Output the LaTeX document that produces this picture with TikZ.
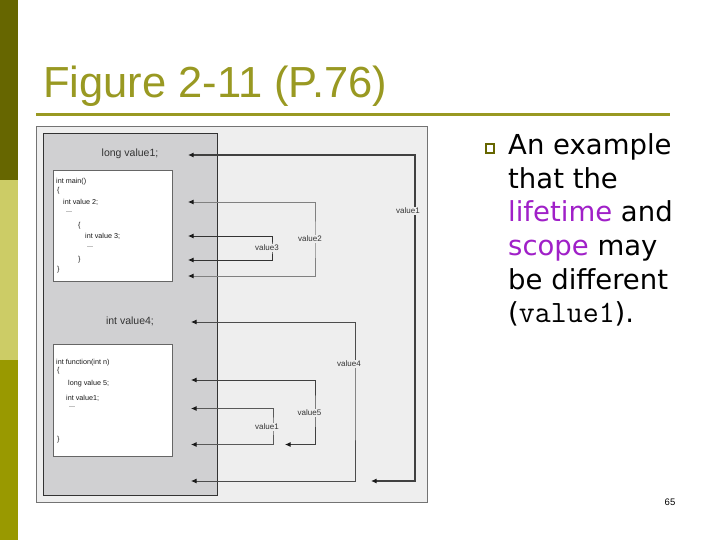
\documentclass[tikz,border=0pt]{standalone}
\usepackage{fontspec}
\setmainfont{Liberation Sans}
\newfontfamily\dv{DejaVu Sans}
\usetikzlibrary{arrows.meta}
\definecolor{oliveA}{RGB}{102,102,0}
\definecolor{oliveB}{RGB}{204,204,102}
\definecolor{oliveC}{RGB}{153,153,0}
\definecolor{titlecol}{RGB}{153,153,34}
\definecolor{purp}{RGB}{160,32,200}
\definecolor{figbg}{RGB}{238,238,238}
\definecolor{figdark}{RGB}{208,208,210}
\tikzset{
  codetxt/.style={anchor=west,inner sep=0pt,font=\fontsize{7.2}{8}\selectfont,text=black!90},
  decl/.style={inner sep=0pt,font=\fontsize{10.5}{12}\selectfont,text=black!80},
  lbl/.style={fill=figbg,inner sep=0.6pt,font=\fontsize{8}{9}\selectfont,text=black!80},
  tip/.style={Latex[length=5.5pt,width=5pt,color=black!90]},
  bracket/.style={line width=0.9pt,{Latex[length=5.5pt,width=5pt,color=black!90]}-{Latex[length=5.5pt,width=5pt,color=black!90]}},
  rline/.style={anchor=base west,inner sep=0pt,font=\dv\fontsize{27.5}{33}\selectfont},
}
\begin{document}
\begin{tikzpicture}[x=1pt,y=-1pt]
\useasboundingbox (0,0) rectangle (720,540);
\fill[white] (0,0) rectangle (720,540);
% sidebar
\fill[oliveA] (0,0) rectangle (18,180);
\fill[oliveB] (0,180) rectangle (18,360);
\fill[oliveC] (0,360) rectangle (18,540);
% title
\node[anchor=base west,inner sep=0pt,text=titlecol,font=\fontsize{43.5}{50}\selectfont] (title) at (43,98) {Figure 2-11 (P.76)};
\draw[titlecol,line width=3.5pt] (36,114.5) -- (670,114.5);
% figure
\draw[fill=figbg,draw=black!55,line width=0.8pt] (36.5,126) rectangle (427.5,502.5);
\draw[fill=figdark,draw=black!80,line width=0.8pt] (43.5,133.5) rectangle (217,495.5);
\draw[fill=white,draw=black!60,line width=0.5pt] (53,170) rectangle (172,281.5);
\draw[fill=white,draw=black!60,line width=0.5pt] (53,344) rectangle (172,456);
\node[decl] (d1) at (130,154) {long value1;};
\node[decl] (d4) at (130,321.5) {int value4;};
% code 1
\node[codetxt] (c1) at (56,182) {int main()};
\node[codetxt] (c2) at (57,191) {\{};
\node[codetxt] (c3) at (63,202) {int value 2;};
\node[codetxt] (c4) at (66,212.5) {...};
\node[codetxt] (c5) at (78,226) {\{};
\node[codetxt] (c6) at (85,236.5) {int value 3;};
\node[codetxt] (c7) at (87,247) {...};
\node[codetxt] (c8) at (78,259.5) {\}};
\node[codetxt] (c9) at (57,270) {\}};
% code 2
\node[codetxt] (e1) at (56,363) {int function(int n)};
\node[codetxt] (e2) at (57,371) {\{};
\node[codetxt] (e3) at (68,384) {long value 5;};
\node[codetxt] (e4) at (66,398.5) {int value1;};
\node[codetxt] (e5) at (69,407.5) {...};
\node[codetxt] (e6) at (57,440) {\}};
% bracket endpoints
\coordinate (v1a) at (188,155);   \coordinate (v1r) at (415,300);  \coordinate (v1b) at (371,481);
\coordinate (v2a) at (188,202);   \coordinate (v2r) at (315,240);  \coordinate (v2b) at (188,276);
\coordinate (v3a) at (188,236);   \coordinate (v3r) at (272,248);  \coordinate (v3b) at (188,260);
\coordinate (v4a) at (191,322);   \coordinate (v4r) at (355,400);  \coordinate (v4b) at (191,481);
\coordinate (v5a) at (191,380);   \coordinate (v5r) at (315,410);  \coordinate (v5b) at (285,444.5);
\coordinate (v6a) at (191,408.5); \coordinate (v6r) at (273,426);  \coordinate (v6b) at (191,444.5);
\draw[bracket,black!75,line width=1.6pt] (v1a) -| (v1r) |- (v1b);
\draw[bracket,black!50] (v2a) -| (v2r) |- (v2b);
\draw[bracket,black!80] (v3a) -| (v3r) |- (v3b);
\draw[bracket,black!70] (v4a) -| (v4r) |- (v4b);
\draw[bracket,black!75] (v5a) -| (v5r) |- (v5b);
\draw[bracket,black!65] (v6a) -| (v6r) |- (v6b);
\node[lbl] (l1) at (408,211) {value1};
\node[lbl] (l2) at (310,239) {value2};
\node[lbl] (l3) at (267,248) {value3};
\node[lbl] (l4) at (349,364) {value4};
\node[lbl] (l5) at (309.5,413) {value5};
\node[lbl] (l6) at (267,427) {value1};
% right text
\node[draw=oliveA,line width=1.8pt,minimum size=8.5pt,inner sep=0pt] (bul) at (490,148.5) {};
\node[rline] (r1) at (508,155) {An example};
\node[rline] (r2) at (508,188.5) {that the};
\node[rline] (r3) at (508,222) {\textcolor{purp}{lifetime} and};
\node[rline] (r4) at (508,255.5) {\textcolor{purp}{scope} may};
\node[rline] (r5) at (508,289) {be different};
\node[rline] (r6) at (508,322.5) {({\ttfamily\fontsize{31}{33}\selectfont value1}).};
\node[inner sep=0pt,font=\fontsize{9.5}{11}\selectfont] (pg) at (670,502) {65};
\end{tikzpicture}
\end{document}
